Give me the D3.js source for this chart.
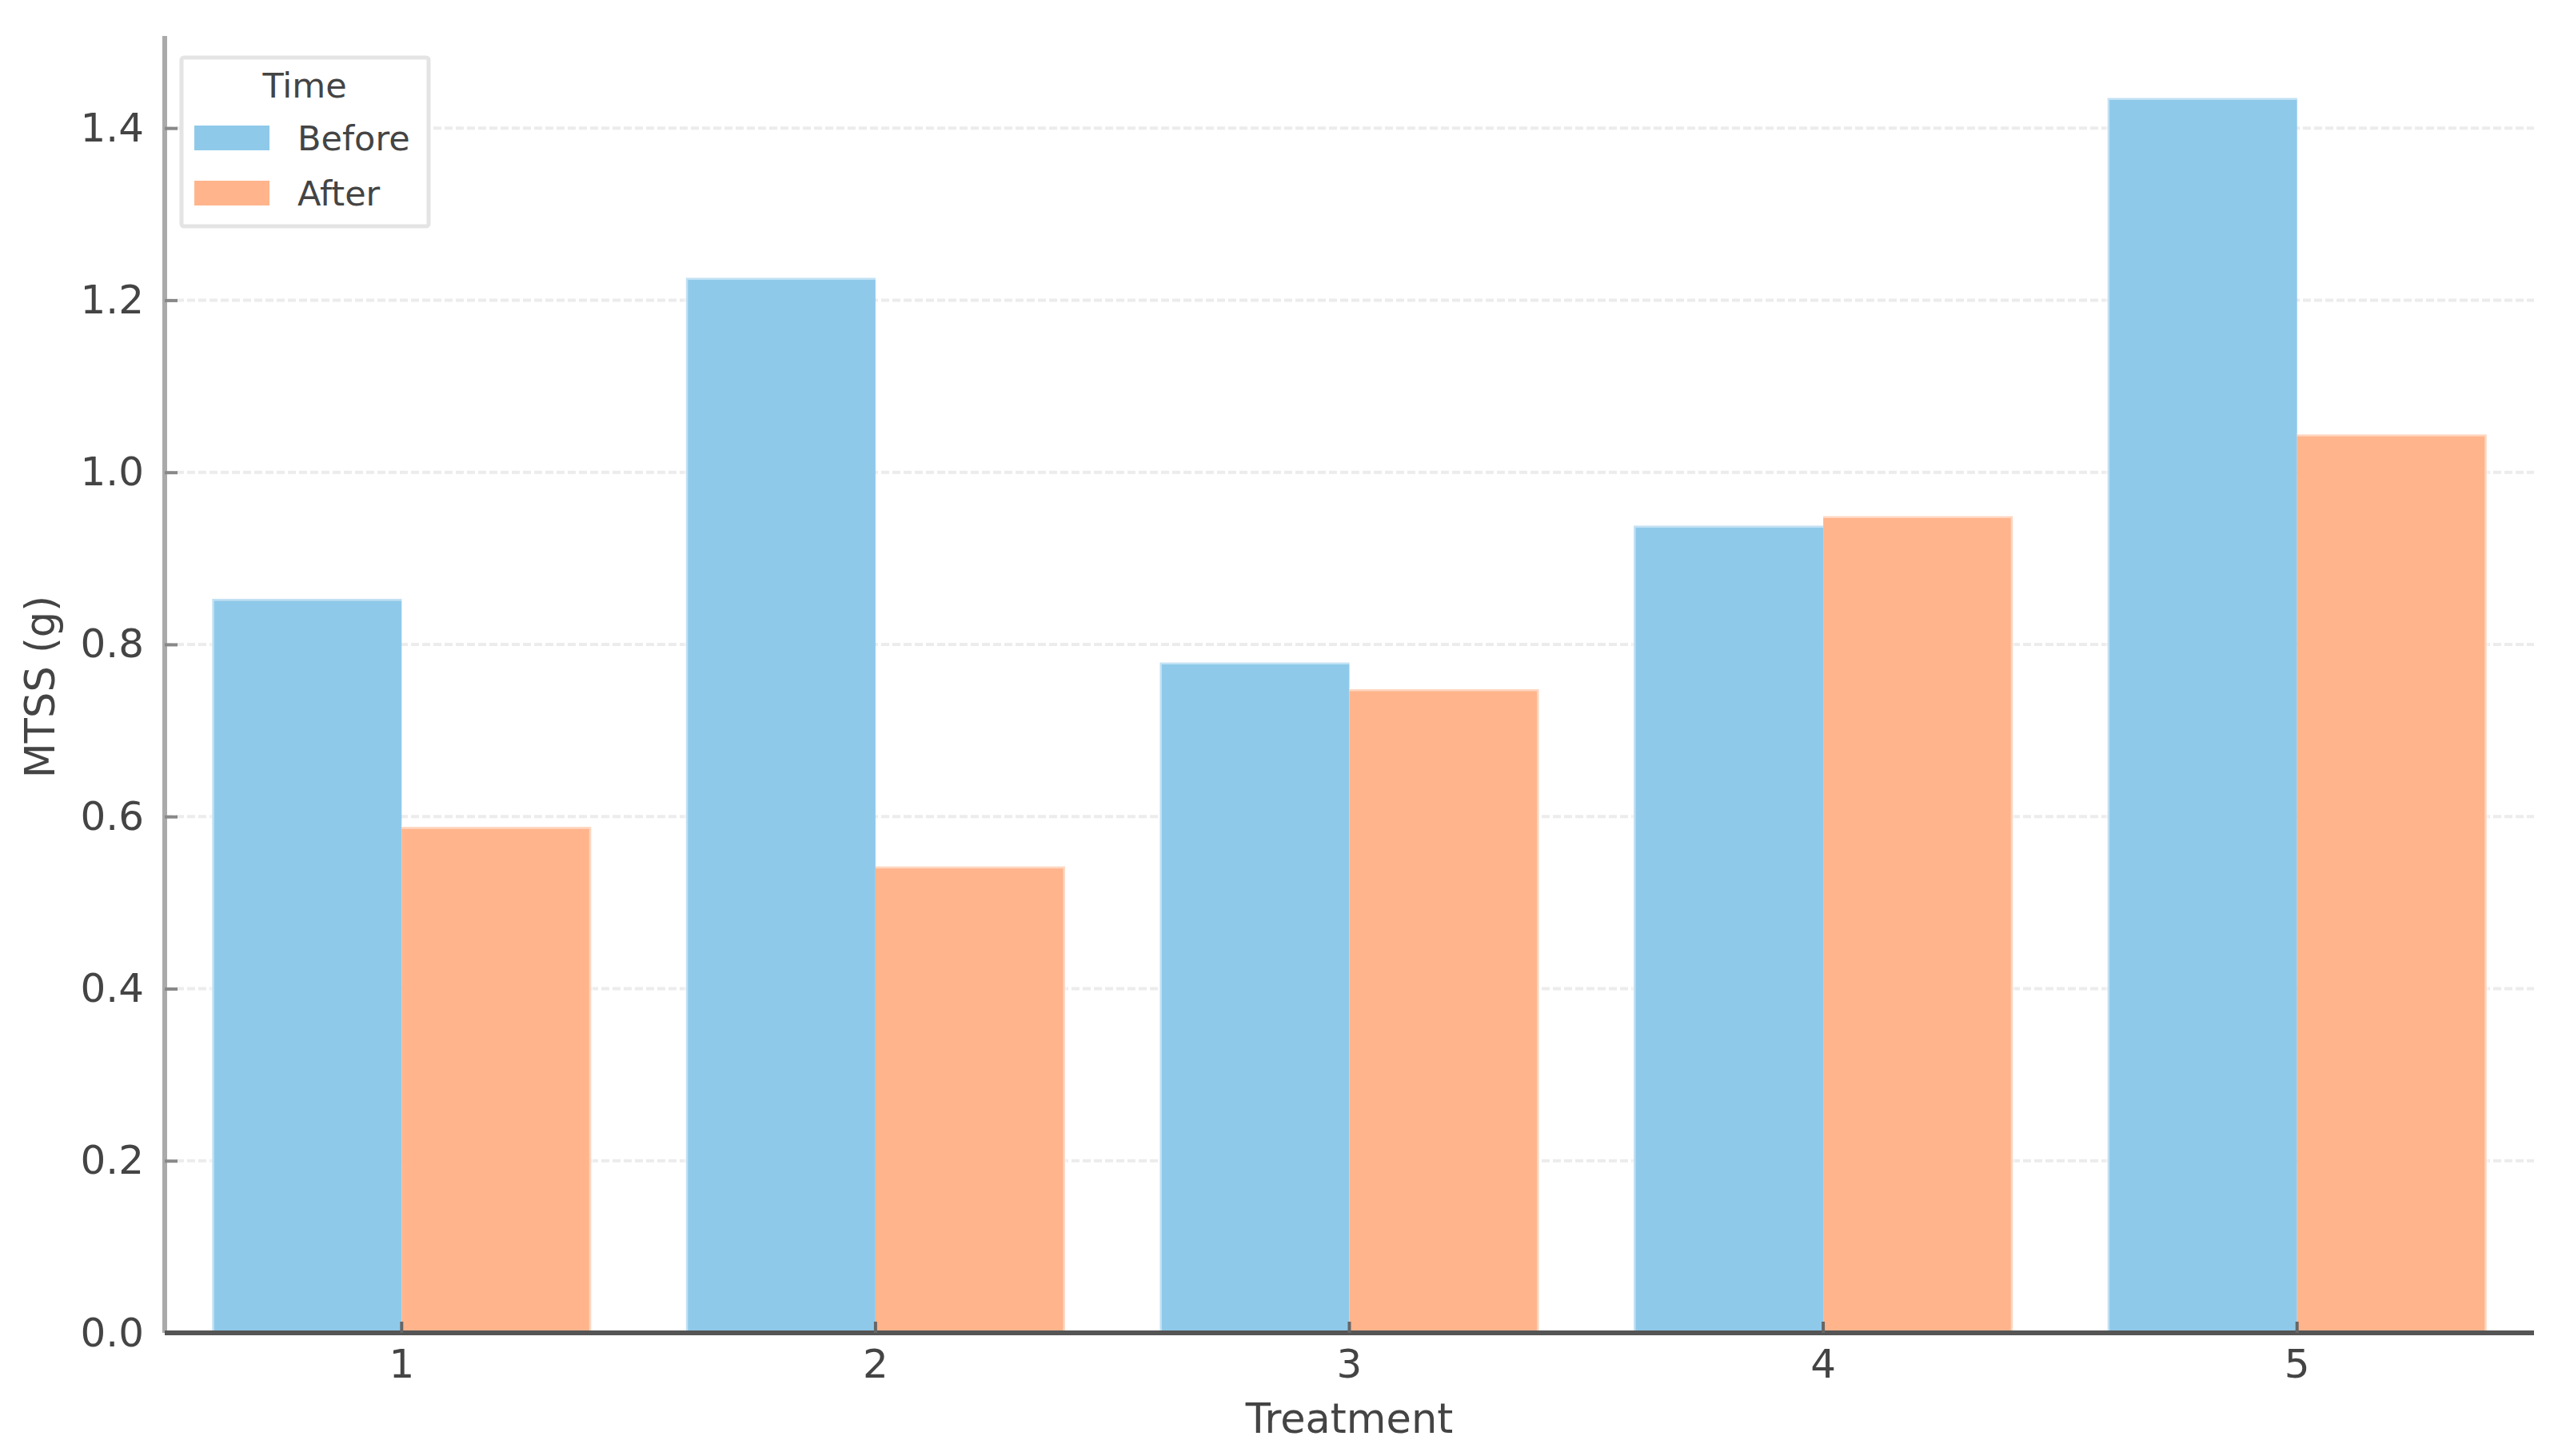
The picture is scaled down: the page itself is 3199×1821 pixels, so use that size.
<!DOCTYPE html>
<html>
<head>
<meta charset="utf-8">
<script src="https://cdn.jsdelivr.net/npm/d3@7"></script>
<style>
html,body{margin:0;padding:0;background:#fff;}
svg{display:block;font-family:"DejaVu Sans",sans-serif;}
</style>
</head>
<body>
<svg id="chart" width="3199" height="1821"></svg>
<script>
const treatments = ["1", "2", "3", "4", "5"];
const seriesNames = ["Before", "After"];
const beforeValues = [0.853, 1.226, 0.779, 0.938, 1.435];
const afterValues = [0.588, 0.542, 0.748, 0.949, 1.044];
const yTicks = [0.0, 0.2, 0.4, 0.6, 0.8, 1.0, 1.2, 1.4];
const colors = {Before: "#8fc9ea", After: "#ffb48c"};

(function () {
const svg = d3.select("#chart");
const mLeft = 206, mRight = 3169, mTop = 45, mBottom = 1667;

const x = d3.scaleBand().domain(treatments).range([mLeft, mRight]).paddingInner(0.2).paddingOuter(0.1);
const xs = d3.scaleBand().domain(seriesNames).range([0, x.bandwidth()]);
const y = d3.scaleLinear().domain([0, 1.507]).range([mBottom, mTop]);

// grid
svg.append("g").selectAll("line").data(yTicks.filter(d => d > 0)).join("line")
  .attr("x1", mLeft).attr("x2", mRight)
  .attr("y1", d => y(d)).attr("y2", d => y(d))
  .attr("stroke", "#ececec").attr("stroke-width", 4)
  .attr("stroke-dasharray", "10,4");

// bars
const rows = treatments.map((t, i) => ({t, Before: beforeValues[i], After: afterValues[i]}));
const g = svg.append("g").selectAll("g").data(rows).join("g")
  .attr("transform", d => `translate(${x(d.t)},0)`);
g.selectAll("rect").data(d => seriesNames.map(s => ({s, v: d[s]}))).join("rect")
  .attr("x", d => xs(d.s)).attr("width", xs.bandwidth())
  .attr("y", d => y(d.v)).attr("height", d => mBottom - y(d.v))
  .attr("fill", d => colors[d.s]);
g.selectAll("path.edge").data(d => seriesNames.map(s => ({s, v: d[s]}))).join("path")
  .attr("class", "edge")
  .attr("d", d => {
    const x0 = xs(d.s), x1 = xs(d.s) + xs.bandwidth(), yt = y(d.v);
    return d.s === "Before"
      ? `M${x0},${mBottom}V${yt}H${x1}`
      : `M${x0},${yt}H${x1}V${mBottom}`;
  })
  .attr("fill", "none")
  .attr("stroke", "rgba(255,255,255,0.45)").attr("stroke-width", 5);

// y axis
const yAxis = svg.append("g").attr("transform", `translate(${mLeft},0)`)
  .call(d3.axisLeft(y).tickValues(yTicks).tickFormat(d3.format(".1f")).tickSize(-16).tickPadding(26));
yAxis.select(".domain").attr("stroke", "#aaaaaa").attr("stroke-width", 6).attr("d", `M0,${mTop}V${mBottom}`);
yAxis.selectAll(".tick line").attr("stroke", "#888").attr("stroke-width", 4);
yAxis.selectAll(".tick text").attr("font-size", 50).attr("fill", "#444").attr("font-family", "DejaVu Sans");

// x axis
const xAxis = svg.append("g").attr("transform", `translate(0,${mBottom})`)
  .call(d3.axisBottom(x).tickSize(-14).tickPadding(20));
xAxis.select(".domain").attr("stroke", "#555").attr("stroke-width", 6).attr("d", `M${mLeft},0H${mRight}`);
xAxis.selectAll(".tick line").attr("stroke", "#666").attr("stroke-width", 4);
xAxis.selectAll(".tick text").attr("font-size", 50).attr("fill", "#444").attr("font-family", "DejaVu Sans");

// axis labels
svg.append("text").attr("x", (mLeft + mRight) / 2).attr("y", 1792)
  .attr("text-anchor", "middle").attr("font-size", 51).attr("fill", "#444").text("Treatment");
svg.append("text").attr("transform", "translate(68,859) rotate(-90)")
  .attr("text-anchor", "middle").attr("font-size", 51).attr("fill", "#444").text("MTSS (g)");

// legend
const lg = svg.append("g");
lg.append("rect").attr("x", 227).attr("y", 72).attr("width", 309).attr("height", 211)
  .attr("fill", "#fff").attr("stroke", "#e4e4e4").attr("stroke-width", 5).attr("rx", 3);
lg.append("text").attr("x", 381).attr("y", 122).attr("text-anchor", "middle")
  .attr("font-size", 43).attr("fill", "#444").text("Time");
seriesNames.forEach((s, i) => {
  const yy = 157 + i * 69;
  lg.append("rect").attr("x", 243).attr("y", yy).attr("width", 94).attr("height", 31).attr("fill", colors[s]);
  lg.append("text").attr("x", 372).attr("y", yy + 31).attr("font-size", 43).attr("fill", "#444").text(s);
});
})();
</script>
</body>
</html>
